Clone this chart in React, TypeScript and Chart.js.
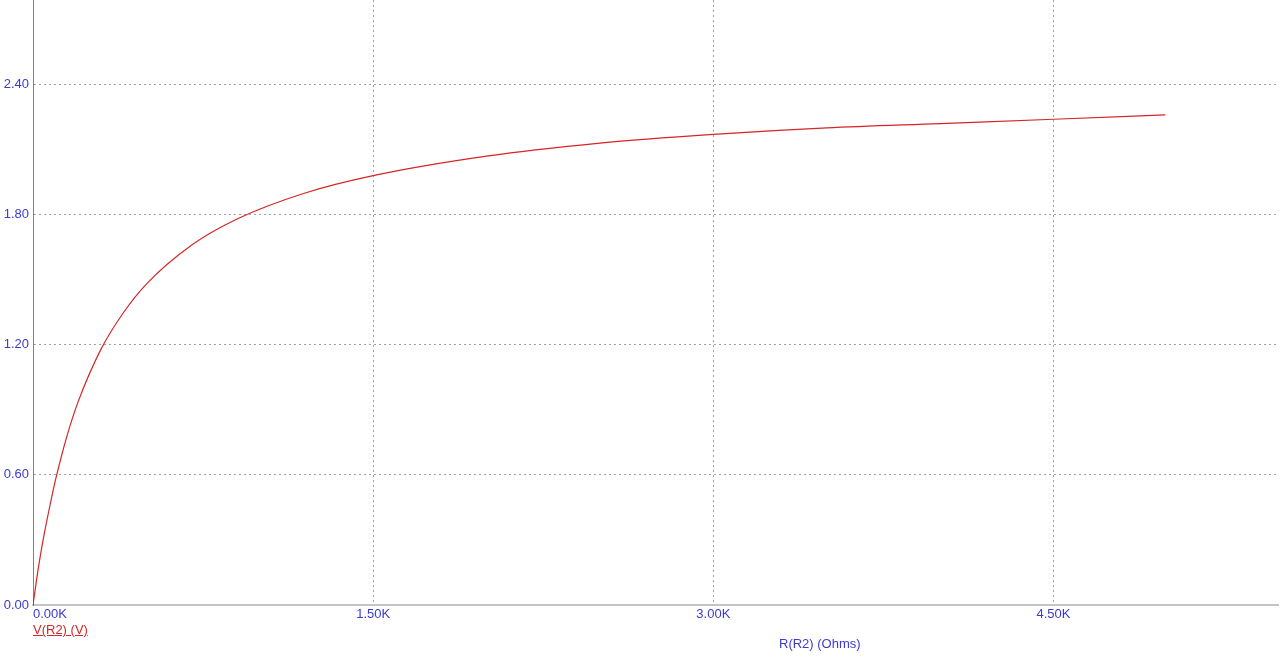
import React, { useEffect, useRef } from "react";
import { Chart, registerables } from "chart.js";

Chart.register(...registerables);

const resistance = [0, 25, 50, 75, 100, 150, 200, 300, 400, 500, 700, 900, 1200, 1500, 2000, 2500, 3000, 3500, 4000, 4500, 4993];
const voltage = [0, 0.18, 0.33, 0.46, 0.58, 0.78, 0.94, 1.18, 1.35, 1.48, 1.66, 1.78, 1.9, 1.98, 2.07, 2.13, 2.17, 2.2, 2.22, 2.24, 2.26];
const xTicks = [0, 1500, 3000, 4500, 5490];
const yTicks = [0, 0.6, 1.2, 1.8, 2.4, 2.79];

const FONT = "'Liberation Sans', Arial, sans-serif";
const BLUE = "#3a3ad0";
const RED = "#d42626";
const GRID = "#a0a0a0";
const CLEAR = "rgba(0,0,0,0)";

export default function App() {
  const ref = useRef<HTMLCanvasElement | null>(null);

  useEffect(() => {
    if (!ref.current) return;
    const points = resistance.map((r, i) => ({ x: r, y: voltage[i] }));
    const chart = new Chart(ref.current, {
      type: "scatter",
      data: {
        datasets: [
          {
            data: points,
            showLine: true,
            borderColor: RED,
            borderWidth: 1.2,
            pointRadius: 0,
            cubicInterpolationMode: "monotone",
          } as any,
        ],
      },
      options: {
        animation: false,
        responsive: true,
        maintainAspectRatio: false,
        layout: { padding: 0 },
        plugins: { legend: { display: false }, tooltip: { enabled: false } },
        scales: {
          x: {
            type: "linear",
            min: 0,
            max: 5490,
            afterBuildTicks: (s: any) => {
              s.ticks = xTicks.map((v) => ({ value: v }));
            },
            afterFit: (s: any) => {
              s.height = 54;
            },
            ticks: {
              align: "inner",
              padding: 2,
              color: BLUE,
              font: { family: FONT, size: 13 },
              maxRotation: 0,
              autoSkip: false,
              callback: (v: any) => (v === 5490 ? "" : (Number(v) / 1000).toFixed(2) + "K"),
            },
            grid: {
              drawTicks: false,
              color: (ctx: any) => (ctx.tick && (ctx.tick.value === 0 || ctx.tick.value === 5490) ? CLEAR : GRID),
              lineWidth: 1,
            },
            border: { color: "#c4c4c4", width: 2, dash: [2, 3] },
          },
          y: {
            type: "linear",
            min: 0,
            max: 2.79,
            afterBuildTicks: (s: any) => {
              s.ticks = yTicks.map((v) => ({ value: v }));
            },
            afterFit: (s: any) => {
              s.width = 33;
              s.paddingTop = 0;
              s.paddingBottom = 0;
            },
            ticks: {
              padding: 4,
              color: BLUE,
              font: { family: FONT, size: 13 },
              autoSkip: false,
              callback: (v: any) => (v === 2.79 ? "" : Number(v).toFixed(2)),
            },
            grid: {
              drawTicks: false,
              color: (ctx: any) => (ctx.tick && (ctx.tick.value === 0 || ctx.tick.value === 2.79) ? CLEAR : GRID),
              lineWidth: 1,
            },
            border: { color: "#808080", width: 1, dash: [2, 3] },
          },
        },
      },
    });
    return () => chart.destroy();
  }, []);

  return (
    <div style={{ position: "absolute", left: 0, top: 0, width: 1280, height: 659, background: "#fff", overflow: "hidden" }}>
      <canvas ref={ref} />
      <div
        style={{
          position: "absolute",
          left: 33,
          top: 622,
          fontFamily: FONT,
          fontSize: 13,
          color: RED,
          textDecoration: "underline",
          lineHeight: "15px",
        }}
      >
        V(R2) (V)
      </div>
      <div
        style={{
          position: "absolute",
          left: 779,
          top: 636,
          fontFamily: FONT,
          fontSize: 13,
          color: BLUE,
          lineHeight: "15px",
          whiteSpace: "nowrap",
        }}
      >
        R(R2) (Ohms)
      </div>
    </div>
  );
}
